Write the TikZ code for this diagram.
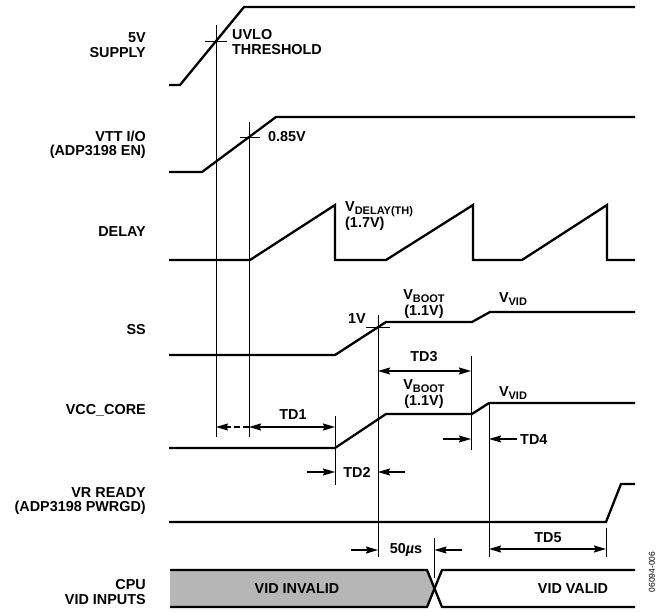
\documentclass[tikz,border=0pt]{standalone}
\usepackage{fontspec}
\setmainfont{Liberation Sans}
\usetikzlibrary{arrows.meta}
\definecolor{vidgray}{RGB}{182,182,182}
\newcommand{\sbx}[1]{\raisebox{-2.5pt}{\fontsize{11}{12}\selectfont #1}}
\begin{document}
\begin{tikzpicture}[x=1pt,y=-1pt,
 sig/.style={line width=2.3pt, line join=miter, line cap=butt},
 guide/.style={line width=0.9pt},
 tipa/.tip={Stealth[length=12pt,width=7pt,inset=1.5pt]},
 dimarrow/.style={line width=1.3pt, -tipa},
 dimboth/.style={line width=1.3pt, tipa-tipa},
 lbl/.style={font=\bfseries\fontsize{14.4}{14.5}\selectfont, align=right, anchor=east, inner sep=0pt},
 txt/.style={font=\bfseries\fontsize{14.4}{14.5}\selectfont, align=center, inner sep=0pt},
 txtb/.style={txt, anchor=base},
 txtl/.style={font=\bfseries\fontsize{14.4}{14.5}\selectfont, align=left, anchor=west, inner sep=0pt},
 txtlb/.style={txtl, anchor=base west},
]
\useasboundingbox (0,0) rectangle (662,612);

% ---------- left labels ----------
\node[lbl] (l5v)  at (146,45)  {5V\\SUPPLY};
\node[lbl] (lvtt) at (146,145) {VTT I/O\\(ADP3198 EN)};
\node[lbl] (ldel) at (146,232) {DELAY};
\node[lbl] (lss)  at (146,330) {SS};
\node[lbl] (lvcc) at (146,410) {VCC\_CORE};
\node[lbl] (lvr)  at (146,501) {VR READY\\(ADP3198 PWRGD)};
\node[lbl] (lcpu) at (146,592) {CPU\\VID INPUTS};

% ---------- signals ----------
\draw[sig] (169,85) -- (180,85) -- (244,7) -- (635,7);
\draw[sig] (169,172) -- (202,172) -- (276,117) -- (635,117);
\draw[sig] (169,260) -- (250,260) -- (335,205) -- (335,260) -- (386,260)
  -- (473,205) -- (473,260) -- (522,260) -- (607,205) -- (607,260) -- (635,260);
\draw[sig] (169,355) -- (335,355) -- (386,322) -- (472,322) -- (490,312) -- (635,312);
\draw[sig] (169,448) -- (335,448) -- (386,414) -- (472,414) -- (489,403) -- (635,403);
\draw[sig] (169,522) -- (606,522) -- (621,484) -- (635,484);

% VID bus
\fill[vidgray] (170,570) -- (427,570) -- (434.5,588.5) -- (427,607) -- (170,607) -- cycle;
\draw[sig] (170,570) -- (427,570) -- (442,607) -- (635,607);
\draw[sig] (170,607) -- (427,607) -- (442,570) -- (635,570);

% ---------- guides and threshold ticks ----------
\coordinate (g1t) at (216,25);  \coordinate (g1b) at (216,437);
\coordinate (g2t) at (249,122); \coordinate (g2b) at (249,437);
\coordinate (g3t) at (378,315); \coordinate (g3b) at (378,557);
\coordinate (g4t) at (335,416); \coordinate (g4b) at (335,485);
\coordinate (g5t) at (471,356); \coordinate (g5b) at (471,450);
\coordinate (g6t) at (489,403); \coordinate (g6b) at (489,557);
\coordinate (g7t) at (606,528); \coordinate (g7b) at (606,557);
\coordinate (g8t) at (434.5,538); \coordinate (g8b) at (434.5,578);
\foreach \i in {1,...,8} {\draw[guide] (g\i t) -- (g\i b);}
\draw[guide] (205,41) -- (227,41);
\draw[guide] (240,137) -- (260,137);
\draw[guide] (366,327) -- (390,327);

% ---------- dimension arrows ----------
\coordinate (a1) at (216,427); \coordinate (a2) at (249,427); \coordinate (a3) at (335,427);
\draw[dimarrow, dash pattern=on 6pt off 3pt] (a2) -- (a1);
\draw[dimboth] (a2) -- (a3);
\node[txt] (td1) at (293,415) {TD1};

\coordinate (b1) at (307,472); \coordinate (b2) at (335,472);
\coordinate (b3) at (405,472); \coordinate (b4) at (378,472);
\draw[dimarrow] (b1) -- (b2);
\draw[dimarrow] (b3) -- (b4);
\node[txt] (td2) at (357,472) {TD2};

\coordinate (c1) at (378,371); \coordinate (c2) at (471,371);
\draw[dimboth] (c1) -- (c2);
\node[txt] (td3) at (424,357) {TD3};

\coordinate (d1) at (443,439); \coordinate (d2) at (471,439);
\coordinate (d3) at (517,439); \coordinate (d4) at (489,439);
\draw[dimarrow] (d1) -- (d2);
\draw[dimarrow] (d3) -- (d4);
\node[txtl] (td4) at (520,440) {TD4};

\coordinate (e1) at (351,550); \coordinate (e2) at (378,550);
\coordinate (e3) at (462,550); \coordinate (e4) at (434.5,550);
\draw[dimarrow] (e1) -- (e2);
\draw[dimarrow] (e3) -- (e4);
\node[txt] (t50) at (406,550) {50\textit{µ}s};

\coordinate (f1) at (489,549); \coordinate (f2) at (606,549);
\draw[dimboth] (f1) -- (f2);
\node[txt] (td5) at (548,538) {TD5};

% ---------- signal annotations ----------
\node[txtl] (uvlo) at (232,35) {UVLO};
\node[txtl] (thr)  at (232,50) {THRESHOLD};
\node[txtl] (v085) at (268,137) {0.85V};
\node[txtlb] (vdel) at (345,212) {V\sbx{DELAY(TH)}};
\node[txtlb] (v17)  at (345,228) {(1.7V)};
\node[txt]  (v1)   at (357,319) {1V};
\node[txtb] (vb1)  at (424,300) {V\sbx{BOOT}};
\node[txtb] (vb1v) at (424,316) {(1.1V)};
\node[txtb] (vv1)  at (513,303) {V\sbx{VID}};
\node[txtb] (vb2)  at (424,390) {V\sbx{BOOT}};
\node[txtb] (vb2v) at (424,406) {(1.1V)};
\node[txtb] (vv2)  at (513,397) {V\sbx{VID}};

\node[txt] (vinv) at (297,589) {VID INVALID};
\node[txt] (vval) at (573,589) {VID VALID};
\node[rotate=90, inner sep=0pt, font=\fontsize{8.5}{9}\selectfont] (fig) at (652,572) {06094-006};
\end{tikzpicture}
\end{document}
